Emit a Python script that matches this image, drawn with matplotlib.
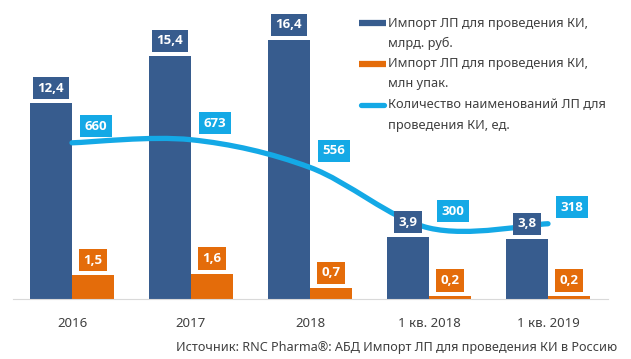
import matplotlib.pyplot as plt
from matplotlib.path import Path
from matplotlib.patches import PathPatch
from matplotlib.lines import Line2D
import numpy as np

plt.rcParams['font.family'] = ['Noto Sans', 'DejaVu Sans']

categories = ['2016', '2017', '2018', '1 кв. 2018', '1 кв. 2019']
rub_bn = [12.4, 15.4, 16.4, 3.9, 3.8]
packs_mn = [1.5, 1.6, 0.7, 0.2, 0.2]
names_cnt = [660, 673, 556, 300, 318]
legend_labels = ['Импорт ЛП для проведения КИ,\nмлрд. руб.',
                 'Импорт ЛП для проведения КИ,\nмлн упак.',
                 'Количество наименований ЛП для\nпроведения КИ, ед.']
source = 'Источник: RNC Pharma®: АБД Импорт ЛП для проведения КИ в Россию'

c_blue = '#375C8E'
c_orange = '#E46C0A'
c_line = '#14A9E6'
c_text = '#404040'

W, H = 631, 359
fig = plt.figure(figsize=(W/100, H/100), dpi=100)
ax = fig.add_axes([12.5/W, 60/H, 595/W, 284/H])
ax2 = ax.twinx()

x = np.arange(len(categories))
bw = 0.353
ax.bar(x - bw/2, rub_bn, bw, color=c_blue, zorder=2)
ax.bar(x + bw/2, packs_mn, bw, color=c_orange, zorder=2)
ax.set_xlim(-0.5, len(categories) - 0.5)
ax.set_ylim(0, 18)
ax2.set_ylim(0, 1200)

# smoothed line (bezier, like excel)
pts = np.column_stack([x, names_cnt]).astype(float)
verts = [pts[0]]
codes = [Path.MOVETO]
n = len(pts)
for i in range(n - 1):
    p0 = pts[max(i - 1, 0)]
    p1 = pts[i]
    p2 = pts[i + 1]
    p3 = pts[min(i + 2, n - 1)]
    verts += [p1 + (p2 - p0) / 6, p2 - (p3 - p1) / 6, p2]
    codes += [Path.CURVE4] * 3
ax2.add_patch(PathPatch(Path(verts, codes), fill=False, edgecolor=c_line,
                        lw=3.8, capstyle='round', zorder=3))

lab_kw = dict(textcoords='offset points', ha='center', va='center', family=['Open Sans', 'DejaVu Sans'],
              color='white', fontsize=9.5, fontweight='bold', zorder=5)
box = dict(boxstyle='square,pad=0.35', ec='none')
for xi, v in zip(x, rub_bn):
    ax2.annotate(str(v).replace('.', ','), xy=(xi - bw/2, v), xycoords=ax.transData,
                 xytext=(0, 11), bbox=dict(box, fc=c_blue), **lab_kw)
for xi, v in zip(x, packs_mn):
    ax2.annotate(str(v).replace('.', ','), xy=(xi + bw/2, v), xycoords=ax.transData,
                 xytext=(0, 11), bbox=dict(box, fc=c_orange), **lab_kw)
for xi, v in zip(x, names_cnt):
    ax2.annotate(str(v), xy=(xi, v), xytext=(17, 12),
                 bbox=dict(box, fc=c_line), **lab_kw)

for a in (ax, ax2):
    for s in a.spines.values():
        s.set_visible(False)
    a.set_yticks([])
ax.spines['bottom'].set_visible(True)
ax.spines['bottom'].set_color('#D9D9D9')
ax.set_xticks(x)
ax.set_xticklabels(categories, fontsize=9.5, color=c_text)
ax.tick_params(axis='x', length=0, pad=13)

# legend
handle_y = [23, 64, 105]
for i, lab in enumerate(legend_labels):
    y0 = 1 - handle_y[i] / H
    if i < 2:
        fig.add_artist(Line2D([359/W, 386/W], [y0, y0], lw=4.5, color=[c_blue, c_orange][i],
                              solid_capstyle='butt', transform=fig.transFigure))
    else:
        fig.add_artist(Line2D([361/W, 384/W], [y0, y0], lw=3.8, color=c_line,
                              solid_capstyle='round', transform=fig.transFigure))
    for j, line in enumerate(lab.split('\n')):
        fig.text(388/W, 1 - (handle_y[i] + 20*j)/H, line, fontsize=9.2, color=c_text, va='center')

fig.text(617/W, 1 - 347/H, source, fontsize=9.1, color=c_text, ha='right', va='center')

fig.savefig('out.png', dpi=100)
